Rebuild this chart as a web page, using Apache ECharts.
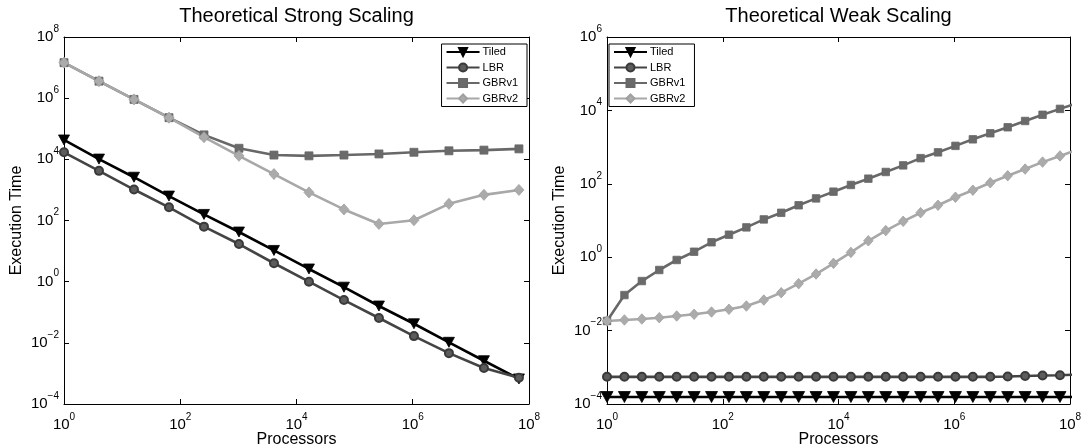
<!DOCTYPE html>
<html>
<head>
<meta charset="utf-8">
<title>Theoretical Scaling</title>
<script src="https://cdn.jsdelivr.net/npm/echarts@6/dist/echarts.min.js"></script>
<style>
  html, body { margin: 0; padding: 0; background: #fff; }
  #chart { width: 1083px; height: 448px; }
</style>
</head>
<body>
<div id="chart"></div>
<script>
// series names (legend order)
const seriesNames = ['Tiled', 'LBR', 'GBRv1', 'GBRv2']

// strong scaling: processors = 4^k
const strongX = [1, 4, 16, 64, 256, 1024, 4096, 16384, 65536, 262144, 1048576, 4194304, 16777216, 67108864]
const strongTiled = [4.3e4, 1.02e4, 2.6e3, 630, 158, 42, 10.5, 2.6, 0.66, 0.16, 0.042, 0.0104, 0.0026, 6.6e-4]
const strongLBR = [1.7e4, 4.2e3, 1.03e3, 270, 63, 17, 4.0, 1.0, 0.25, 0.065, 0.0166, 0.0046, 0.0015, 7.2e-4]
const strongGBRv1 = [1.45e7, 3.6e6, 9.1e5, 2.3e5, 6.3e4, 2.3e4, 1.38e4, 1.3e4, 1.38e4, 1.5e4, 1.7e4, 1.9e4, 2.0e4, 2.2e4]
const strongGBRv2 = [1.45e7, 3.6e6, 9.1e5, 2.3e5, 5.3e4, 1.3e4, 3.3e3, 830, 230, 77, 102, 350, 690, 1000]

// weak scaling: processors = 2^k (last point lies past 10^8 and is clipped)
const weakX = [1, 2, 4, 8, 16, 32, 64, 128, 256, 512, 1024, 2048, 4096, 8192, 16384, 32768, 65536, 131072,
  262144, 524288, 1048576, 2097152, 4194304, 8388608, 16777216, 33554432, 67108864, 134217728]
const weakTiled = [1.55e-4, 1.55e-4, 1.55e-4, 1.55e-4, 1.55e-4, 1.55e-4, 1.55e-4, 1.55e-4, 1.55e-4, 1.55e-4,
  1.55e-4, 1.55e-4, 1.55e-4, 1.55e-4, 1.55e-4, 1.55e-4, 1.55e-4, 1.55e-4, 1.55e-4, 1.55e-4,
  1.55e-4, 1.55e-4, 1.55e-4, 1.55e-4, 1.55e-4, 1.55e-4, 1.55e-4, 1.55e-4]
const weakLBR = [5.5e-4, 5.5e-4, 5.5e-4, 5.5e-4, 5.5e-4, 5.5e-4, 5.5e-4, 5.5e-4, 5.5e-4, 5.5e-4,
  5.5e-4, 5.5e-4, 5.5e-4, 5.5e-4, 5.5e-4, 5.5e-4, 5.5e-4, 5.5e-4, 5.5e-4, 5.5e-4,
  5.5e-4, 5.5e-4, 5.5e-4, 5.6e-4, 5.8e-4, 6.0e-4, 6.1e-4, 6.3e-4]
const weakGBRv1 = [0.0183, 0.093, 0.224, 0.448, 0.84, 1.41, 2.55, 4.1, 6.5, 10.7, 16.2, 26, 40, 61, 93, 138,
  210, 318, 500, 720, 1080, 1630, 2380, 3470, 5150, 7600, 1.1e4, 1.6e4]
const weakGBRv2 = [0.0183, 0.0195, 0.0207, 0.0225, 0.025, 0.0278, 0.0321, 0.038, 0.0468, 0.068, 0.108, 0.19,
  0.348, 0.68, 1.35, 2.8, 5.3, 9.5, 16.3, 26, 43, 67, 107, 166, 252, 390, 575, 850]

// axis ranges / tick labels (decades)
const xTicks = [1e0, 1e2, 1e4, 1e6, 1e8]
const strongYTicks = [1e-4, 1e-2, 1e0, 1e2, 1e4, 1e6, 1e8]
const weakYTicks = [1e-4, 1e-2, 1e0, 1e2, 1e4, 1e6]

const FONT = '"Liberation Sans", Arial, Helvetica, sans-serif'

const chart = echarts.init(document.getElementById('chart'), null, { renderer: 'canvas' })

// "10^n" label with superscript exponent
const expLabel = (v) => {
  const e = Math.round(Math.log10(v))
  return '{b|10}{s|' + (e < 0 ? '\u2212' + (-e) : e) + '}'
}

const labelRich = {
  b: { fontSize: 15, lineHeight: 26, fontFamily: FONT, color: '#000' },
  s: { fontSize: 10, lineHeight: 10, verticalAlign: 'top', fontFamily: FONT, color: '#000' }
}

const makeAxis = (gridIndex, ticks, position, withLabel, name) => {
  const ax = {
    gridIndex,
    type: 'log',
    logBase: 10,
    min: ticks[0],
    max: ticks[ticks.length - 1],
    interval: 2,
    position,
    axisLine: { show: true, onZero: false, lineStyle: { color: '#000', width: 1 } },
    axisTick: { show: true, inside: true, length: 5, lineStyle: { color: '#000', width: 1 } },
    minorTick: { show: false },
    splitLine: { show: false },
    axisLabel: withLabel
      ? { show: true, margin: position === 'bottom' ? 8 : 5, formatter: expLabel, rich: labelRich }
      : { show: false }
  }
  if (name) {
    ax.name = name
    ax.nameLocation = 'middle'
    ax.nameMoveOverlap = false
    ax.nameTextStyle = { fontSize: 16, fontFamily: FONT, color: '#000' }
    if (position === 'bottom') {
      ax.nameGap = 28
    } else {
      ax.nameGap = 39
      ax.nameRotate = 90
    }
  }
  return ax
}

const styles = {
  Tiled: { color: '#000', symbol: 'triangle', symbolRotate: 180, size: [11, 10], border: '#000' },
  LBR: { color: '#444', symbol: 'circle', size: 8, border: '#3a3a3a', fill: '#5c5c5c' },
  GBRv1: { color: '#686868', symbol: 'rect', size: 8, border: '#686868', fill: '#6a6a6a' },
  GBRv2: { color: '#a8a8a8', symbol: 'diamond', size: [10, 11], border: '#a0a0a0', fill: '#ababab' }
}

const makeSeries = (name, xs, ys, gi, symSize) => {
  const st = styles[name]
  return {
    name,
    type: 'line',
    xAxisIndex: gi * 2,
    yAxisIndex: gi * 2,
    data: xs.map((x, i) => [x, ys[i]]),
    symbol: st.symbol,
    symbolRotate: st.symbolRotate || 0,
    symbolSize: symSize || st.size,
    showAllSymbol: true,
    clip: true,
    lineStyle: { color: st.color, width: 2.6 },
    itemStyle: { color: st.fill || st.color, borderColor: st.border, borderWidth: name === 'LBR' ? 2 : 0.8 },
    emphasis: { disabled: true }
  }
}

const legendBase = {
  data: seriesNames,
  orient: 'vertical',
  top: 44,
  itemWidth: 33,
  itemHeight: 10,
  itemGap: 3.5,
  padding: [2, 9, 2, 4],
  borderColor: '#000',
  borderWidth: 1,
  borderRadius: 0,
  backgroundColor: '#fff',
  selectedMode: false,
  textStyle: { fontSize: 11, lineHeight: 12, fontFamily: FONT, color: '#000', padding: [0, 0, 0, -2] }
}

const option = {
  animation: false,
  backgroundColor: '#fff',
  graphic: [
    { type: 'text', x: 296.5, y: 16, style: { text: 'Theoretical Strong Scaling', fontSize: 20, fontFamily: FONT, fill: '#000', align: 'center', verticalAlign: 'middle' } },
    { type: 'text', x: 838.5, y: 16, style: { text: 'Theoretical Weak Scaling', fontSize: 20, fontFamily: FONT, fill: '#000', align: 'center', verticalAlign: 'middle' } }
  ],
  legend: [
    Object.assign({}, legendBase, { right: 1083 - 527 }),
    Object.assign({}, legendBase, { left: 609 })
  ],
  grid: [
    { left: 64, top: 37, width: 465, height: 367, containLabel: false, outerBoundsMode: 'none' },
    { left: 607, top: 37, width: 463, height: 367, containLabel: false, outerBoundsMode: 'none' }
  ],
  xAxis: [
    makeAxis(0, xTicks, 'bottom', true, 'Processors'),
    makeAxis(0, xTicks, 'top', false),
    makeAxis(1, xTicks, 'bottom', true, 'Processors'),
    makeAxis(1, xTicks, 'top', false)
  ],
  yAxis: [
    makeAxis(0, strongYTicks, 'left', true, 'Execution Time'),
    makeAxis(0, strongYTicks, 'right', false),
    makeAxis(1, weakYTicks, 'left', true, 'Execution Time'),
    makeAxis(1, weakYTicks, 'right', false)
  ],
  series: [
    makeSeries('Tiled', strongX, strongTiled, 0),
    makeSeries('LBR', strongX, strongLBR, 0),
    makeSeries('GBRv1', strongX, strongGBRv1, 0),
    makeSeries('GBRv2', strongX, strongGBRv2, 0),
    makeSeries('Tiled', weakX, weakTiled, 1, [12, 11]),
    makeSeries('LBR', weakX, weakLBR, 1),
    makeSeries('GBRv1', weakX, weakGBRv1, 1, 7.5),
    makeSeries('GBRv2', weakX, weakGBRv2, 1, [9.5, 10.5])
  ]
}

chart.setOption(option)
</script>
</body>
</html>
